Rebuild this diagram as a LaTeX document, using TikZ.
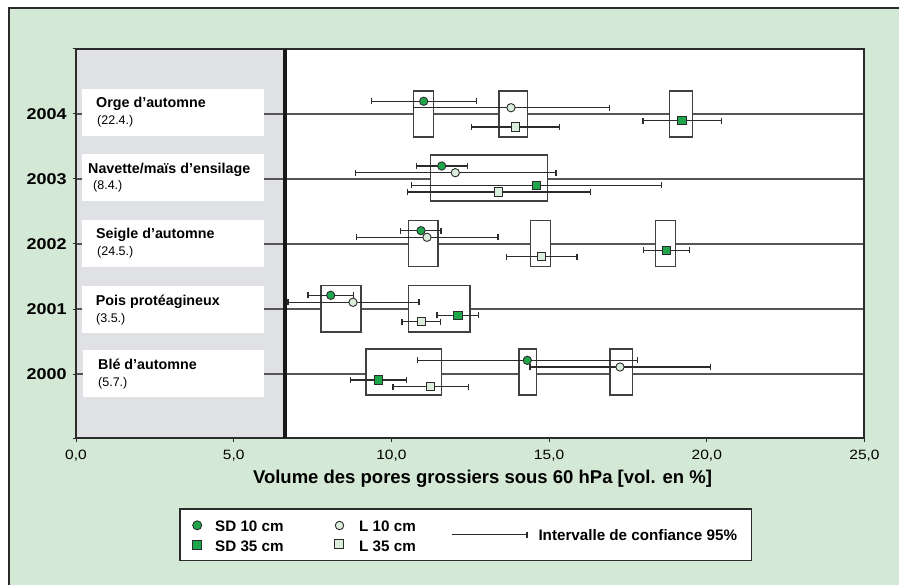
\documentclass[tikz,border=0pt]{standalone}
\usepackage{fontspec}
\setmainfont{Liberation Sans}
\newfontfamily\widefont{Liberation Sans}[FakeStretch=1.15]
\usetikzlibrary{arrows.meta}
\pgfdeclarelayer{marks}
\pgfsetlayers{main,marks}
\definecolor{bgreen}{HTML}{D4E9D5}
\definecolor{plotgray}{HTML}{E0E1E4}
\definecolor{sdgreen}{HTML}{1FA64A}
\definecolor{lgreen}{HTML}{DAEEDB}
\definecolor{ink}{HTML}{2B2B2B}
\definecolor{rowline}{HTML}{555555}
\tikzset{
  sdc/.style={circle, draw=ink, fill=sdgreen, line width=0.9pt, minimum size=8.3pt, inner sep=0pt},
  lc/.style={circle, draw=ink, fill=lgreen, line width=0.9pt, minimum size=8.3pt, inner sep=0pt},
  sds/.style={rectangle, draw=ink, fill=sdgreen, line width=0.9pt, minimum size=8.3pt, inner sep=0pt},
  ls/.style={rectangle, draw=ink, fill=lgreen, line width=0.9pt, minimum size=8.3pt, inner sep=0pt},
  ebar/.style={draw=ink, line width=1.25pt, arrows={Bar[width=6pt]-Bar[width=6pt]}},
  rowbox/.style={draw=ink!90, fill=white, line width=1.1pt},
  labbox/.style={fill=white},
  cropb/.style={anchor=base west, inner sep=0pt, font=\fontsize{14.3}{16}\selectfont\bfseries},
  cropd/.style={anchor=base west, inner sep=0pt, font=\fontsize{12.5}{14}\selectfont},
  yearlab/.style={anchor=east, inner sep=0pt, font=\widefont\bfseries\fontsize{15.6}{18}\selectfont},
  ticklab/.style={anchor=base, inner sep=0pt, font=\widefont\fontsize{13.5}{16}\selectfont},
  legtxt/.style={anchor=base west, inner sep=0pt, font=\fontsize{15.2}{18}\selectfont\bfseries},
  yrline/.style={draw=rowline, line width=1.2pt},
}
\newcommand\datapt[6]{%
  \draw[ebar] (#5,#4) -- (#6,#4);
  \begin{pgfonlayer}{marks}\node[#2] (#1) at (#3,#4) {};\end{pgfonlayer}%
}
\begin{document}
\begin{tikzpicture}[x=1pt,y=-1pt]
\useasboundingbox (0,0) rectangle (899,585);
\fill[white] (0,0) rectangle (899,585);
\fill[bgreen] (9,8) rectangle (899,585);
\draw[ink, line width=1.3pt] (9,585) -- (9,8) -- (899,8);

% plot area
\fill[white] (76,49) rectangle (864,438);
\fill[plotgray] (76,49) rectangle (284.7,438);

% year lines
\foreach \Y in {114,179,244,309,374} {\draw[yrline] (76,\Y) -- (864,\Y);}

% label boxes
\fill[labbox] (82,89) rectangle (264,136);
\fill[labbox] (82,154) rectangle (264,201);
\fill[labbox] (82,220) rectangle (264,266.7);
\fill[labbox] (82,286) rectangle (264,332.7);
\fill[labbox] (83,350) rectangle (264,397);

\node[cropb] (c4) at (96,107.3) {Orge d’automne};
\node[cropd] (d4) at (97,124.3) {(22.4.)};
\node[cropb] (c3) at (88,173.3) {Navette/maïs d’ensilage};
\node[cropd] (d3) at (93,190) {(8.4.)};
\node[cropb] (c2) at (96,238.3) {Seigle d’automne};
\node[cropd] (d2) at (97,256) {(24.5.)};
\node[cropb] (c1) at (95.7,305.3) {Pois protéagineux};
\node[cropd] (d1) at (96,322.5) {(3.5.)};
\node[cropb] (c0) at (98,369) {Blé d’automne};
\node[cropd] (d0) at (98,386.7) {(5.7.)};

% frame and thick line
\draw[ink, line width=1.3pt] (76,49) rectangle (864,438);
\draw[black!90, line width=4pt] (284.7,49) -- (284.7,438);

% ticks
\foreach \Y in {49,114,179,244,309,374,438} {\draw[ink, line width=1pt] (72.5,\Y) -- (76,\Y);}
\foreach \k/\t in {0/{0,0},1/{5,0},2/{10,0},3/{15,0},4/{20,0},5/{25,0}} {
  \draw[ink, line width=1pt] ({76+157.7*\k},438) -- ({76+157.7*\k},441.5);
  \node[ticklab] (t\k) at ({76+157.7*\k},459.3) {\t};
}
\foreach \Y/\yr in {114/2004,179/2003,244/2002,309/2001,374/2000} {\node[yearlab] (y\yr) at (66.7,\Y) {\yr};}

\node[anchor=base, inner sep=0pt, font=\fontsize{18.5}{22}\selectfont\bfseries] (xtitle) at (482.5,483.3) {Volume des pores grossiers sous 60 hPa [vol. en \%]};

% row boxes
\draw[rowbox] (413.3,91) rectangle (433.7,137);
\draw[rowbox] (499,91) rectangle (527.3,137);
\draw[rowbox] (669.7,91) rectangle (692.3,137);
\draw[rowbox] (430.7,155) rectangle (547.7,201);
\draw[rowbox] (408.7,220.5) rectangle (438,266.5);
\draw[rowbox] (530.3,220.5) rectangle (550.3,266.5);
\draw[rowbox] (655.5,220.5) rectangle (675.8,266.5);
\draw[rowbox] (321,285.7) rectangle (361,332);
\draw[rowbox] (408.7,285.7) rectangle (470,332);
\draw[rowbox] (366,349) rectangle (441.7,395);
\draw[rowbox] (519,349) rectangle (536.7,395);
\draw[rowbox] (610,349) rectangle (632.3,395);

% data: 2004
\datapt{a4}{sdc}{423.7}{101.3}{370.7}{477.3}
\datapt{b4}{lc}{511}{107.7}{412.7}{610}
\datapt{e4}{sds}{682}{120.7}{642.3}{722}
\datapt{f4}{ls}{515.3}{127}{471}{560}
% 2003
\datapt{a3}{sdc}{441.7}{166}{415.7}{468}
\datapt{b3}{lc}{455.3}{172.7}{354.7}{556.7}
\datapt{e3}{sds}{536.7}{185.3}{410.7}{662.3}
\datapt{f3}{ls}{498.7}{192}{406.7}{591.3}
% 2002
\datapt{a2}{sdc}{421}{230.7}{399.7}{441.7}
\datapt{b2}{lc}{427}{237.3}{355.7}{498.7}
\datapt{e2}{sds}{666.3}{250.3}{642.7}{690}
\datapt{f2}{ls}{541.3}{256.7}{505.7}{577.7}
% 2001
\datapt{a1}{sdc}{330.7}{295.3}{307.3}{354.3}
\datapt{b1}{lc}{353}{302.3}{287.3}{419.7}
\datapt{e1}{sds}{458}{315.3}{436.3}{479.3}
\datapt{f1}{ls}{421.3}{321.7}{401.3}{441.3}
% 2000
\datapt{a0}{sdc}{527.3}{360.3}{417}{638.2}
\datapt{b0}{lc}{620}{367}{529.3}{711}
\datapt{e0}{sds}{378.3}{380}{349.7}{407.3}
\datapt{f0}{ls}{430.7}{386.7}{392.3}{469.3}

% legend
\draw[ink, fill=white, line width=1.4pt] (180,509) rectangle (751.5,560.5);
\node[sdc, minimum size=9pt] (lg1) at (197.2,525.3) {};
\node[sds, minimum size=9pt] (lg2) at (196.7,544.5) {};
\node[lc, minimum size=8.5pt] (lg3) at (339.5,525.5) {};
\node[ls, minimum size=9pt] (lg4) at (339.3,544.3) {};
\node[legtxt] (lt1) at (215,531.5) {SD 10 cm};
\node[legtxt] (lt2) at (215,551) {SD 35 cm};
\node[legtxt] (lt3) at (359,531.5) {L 10 cm};
\node[legtxt] (lt4) at (359,551) {L 35 cm};
\coordinate (ci1) at (452,534.7);
\coordinate (ci2) at (527.7,534.7);
\draw[draw=ink, line width=1.25pt, arrows={-Bar[width=6pt]}] (ci1) -- (ci2);
\node[legtxt] (lt5) at (538.3,540.5) {Intervalle de confiance 95\%};
\end{tikzpicture}
\end{document}
